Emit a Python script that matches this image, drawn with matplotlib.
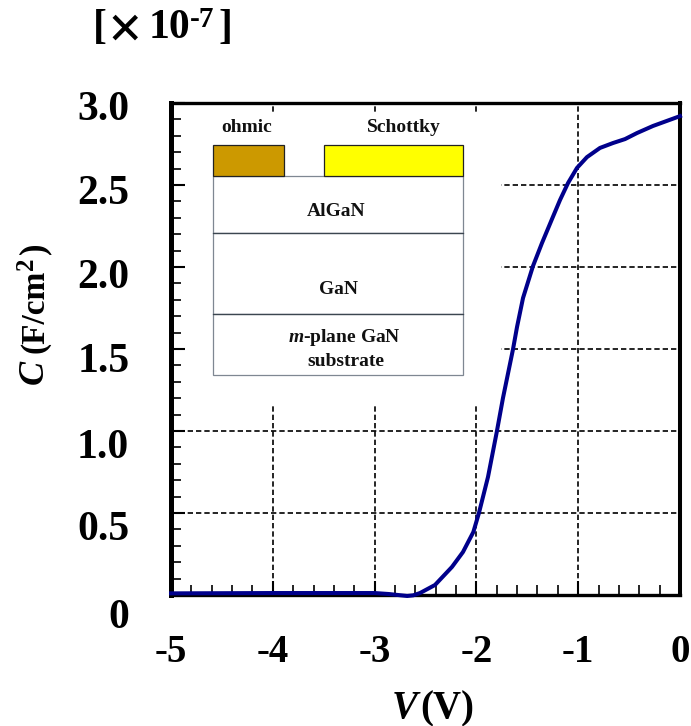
import matplotlib
matplotlib.use('Agg')
import matplotlib.pyplot as plt
from matplotlib.patches import Rectangle
from matplotlib.ticker import MultipleLocator
from matplotlib.transforms import ScaledTranslation

plt.rcParams['font.family'] = ['Liberation Serif', 'DejaVu Serif']
plt.rcParams['font.weight'] = 'bold'
plt.rcParams['mathtext.fontset'] = 'custom'
plt.rcParams['mathtext.rm'] = 'Liberation Serif:bold'
plt.rcParams['mathtext.it'] = 'Liberation Serif:italic:bold'
plt.rcParams['mathtext.bf'] = 'Liberation Serif:bold'

voltage = [-5, -4.5, -4, -3.5, -3.2, -3, -2.86, -2.68, -2.62, -2.554, -2.407, -2.24, -2.132, -2.03,
           -1.975, -1.886, -1.8, -1.739, -1.64, -1.601, -1.542, -1.444, -1.356, -1.257,
           -1.179, -1.10, -1.012, -0.914, -0.786, -0.658, -0.54, -0.422, -0.265, 0]
capacitance = [0.01, 0.011, 0.012, 0.012, 0.012, 0.012, 0.006, -0.006, -0.002, 0.012, 0.061, 0.171, 0.262, 0.384,
               0.50, 0.72, 0.994, 1.201, 1.50, 1.634, 1.811, 2.006, 2.146, 2.293,
               2.408, 2.512, 2.604, 2.67, 2.726, 2.756, 2.78, 2.817, 2.86, 2.92]
x_ticks = [-5, -4, -3, -2, -1, 0]
x_labels = ['-5', '-4', '-3', '-2', '-1', '0']
y_ticks = [0, 0.5, 1.0, 1.5, 2.0, 2.5, 3.0]
y_labels = ['0', '0.5', '1.0', '1.5', '2.0', '2.5', '3.0']
y_label_shift_px = [-19, -13, -12, -8, -6, -4, -2]

W, H = 691, 726
fig = plt.figure(figsize=(W / 100, H / 100), dpi=100)
L, R, T, B = 171, 680, 103, 595
ax = fig.add_axes([L / W, 1 - B / H, (R - L) / W, (B - T) / H])
ax.set_xlim(-5, 0)
ax.set_ylim(0, 3)

ax.set_xticks(x_ticks)
ax.set_xticklabels(x_labels, fontsize=28, fontweight='bold')
ax.set_yticks(y_ticks)
ax.set_yticklabels(y_labels, fontsize=30, fontweight='bold')
ax.xaxis.set_minor_locator(MultipleLocator(0.2))
ax.yaxis.set_minor_locator(MultipleLocator(0.1))
ax.tick_params(axis='both', which='major', direction='in', length=10, width=1.5)
ax.tick_params(axis='x', which='major', pad=28)
ax.tick_params(axis='y', which='major', pad=30)
ax.tick_params(axis='both', which='minor', direction='in', length=7, width=1.2)
for lab, dy in zip(ax.get_yticklabels(), y_label_shift_px):
    lab.set_transform(lab.get_transform() + ScaledTranslation(0, dy / 100, fig.dpi_scale_trans))

ax.grid(True, which='major', color='black', linestyle=(0, (3.2, 1.8)), linewidth=1.2, zorder=1)
ax.set_axisbelow(True)
for name, w in dict(left=3.6, right=2.9, top=2.4, bottom=2.4).items():
    ax.spines[name].set_linewidth(w)
    ax.spines[name].set_zorder(6)

# overlay in picture pixels: white panel over the grid, then the device diagram
overlay = fig.add_axes([0, 0, 1, 1], zorder=3)
overlay.set_xlim(0, W)
overlay.set_ylim(H, 0)
overlay.axis('off')
overlay.patch.set_alpha(0)
overlay.add_patch(Rectangle((186, 113), 315, 292, fc='white', ec='none', zorder=1))

edge = '#7f8792'
ink = '#111111'
fs = 14
overlay.add_patch(Rectangle((213, 176), 250, 57, fc='white', ec=edge, lw=0.9, zorder=2))
overlay.add_patch(Rectangle((213, 233), 250, 81, fc='white', ec=edge, lw=0.9, zorder=2))
overlay.add_patch(Rectangle((213, 314), 250, 61, fc='white', ec=edge, lw=0.9, zorder=2))
overlay.plot([213, 463], [233, 233], color='#3c4650', lw=0.9, zorder=3)
overlay.plot([213, 463], [314, 314], color='#3c4650', lw=0.9, zorder=3)
overlay.add_patch(Rectangle((213, 145), 71, 31, fc='#CC9900', ec='#222222', lw=0.9, zorder=3))
overlay.add_patch(Rectangle((324, 145), 139, 31, fc='#FFFF00', ec='#222222', lw=0.9, zorder=3))
overlay.text(336, 211, 'AlGaN', fontsize=fs, ha='center', va='center', color=ink, zorder=5)
overlay.text(339, 289, 'GaN', fontsize=fs, ha='center', va='center', color=ink, zorder=5)
overlay.text(344, 338, r'$\mathit{m}$-plane GaN', fontsize=fs, ha='center', va='center', color=ink, zorder=5)
overlay.text(346, 361, 'substrate', fontsize=fs, ha='center', va='center', color=ink, zorder=5)
overlay.text(247, 128, 'ohmic', fontsize=fs, ha='center', va='center', color=ink, zorder=5)
overlay.text(404, 128, 'Schottky', fontsize=fs, ha='center', va='center', color=ink, zorder=5)

curve_ax = fig.add_axes(ax.get_position(), zorder=4)
curve_ax.set_xlim(-5, 0)
curve_ax.set_ylim(0, 3)
curve_ax.axis('off')
curve_ax.plot(voltage, capacitance, color='#00008B', lw=2.9, solid_joinstyle='round', clip_on=False, zorder=5)


def px(x, y, s, **kw):
    fig.text(x / W, 1 - y / H, s, **kw)


# header "[ x 10^-7 ]"
px(93, 38, '[', fontsize=30, ha='left', va='baseline')
px(125, 26, '\u00d7', fontsize=44, ha='center', va='center_baseline')
px(149, 38, '10', fontsize=30, ha='left', va='baseline')
px(190, 27, '-7', fontsize=21, ha='left', va='baseline')
px(232, 38, ']', fontsize=30, ha='right', va='baseline')

# x label
px(392, 718, 'V', fontsize=28, style='italic', ha='left', va='baseline')
px(420, 718, '(V)', fontsize=28, ha='left', va='baseline')

# y label
rot = dict(rotation=90, rotation_mode='anchor', ha='left', va='baseline')
px(43, 384, 'C', fontsize=26, style='italic', **rot)
px(43, 353, '(F/cm', fontsize=24, **rot)
px(33, 270, '2', fontsize=18, **rot)
px(43, 254, ')', fontsize=25, **rot)

fig.savefig('out.png', dpi=100)
